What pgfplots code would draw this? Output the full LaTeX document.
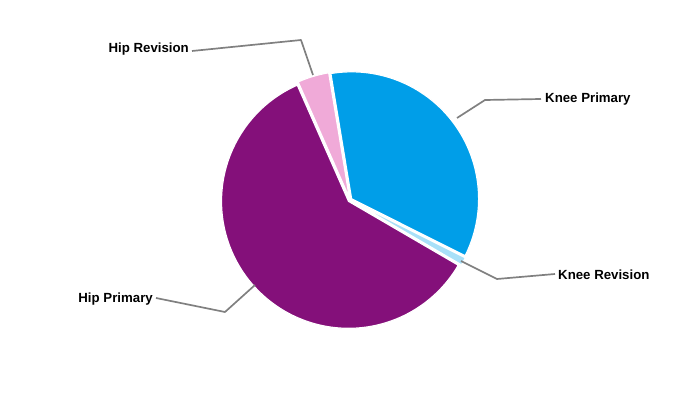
\documentclass[border=0pt]{standalone}
\usepackage{pgfplots}
\pgfplotsset{compat=1.18}
\usepackage{fontspec}
\setmainfont{Liberation Sans}
\definecolor{hp}{HTML}{84107A}
\definecolor{hr}{HTML}{F0AAD8}
\definecolor{kp}{HTML}{009EE8}
\definecolor{kr}{HTML}{A8E0F8}
\definecolor{lead}{HTML}{808080}
\begin{document}
\begin{tikzpicture}
\useasboundingbox (0,0) rectangle (700bp,400bp);
\def\cx{350}\def\cy{200}\def\R{127}\def\ex{2}
% shares in percent
\def\vHP{60}\def\vKR{1}\def\vKP{35}\def\vHR{4}
\pgfmathsetmacro\aA{113.8}
\pgfmathsetmacro\aB{\aA+3.6*\vHP}
\pgfmathsetmacro\aC{\aB+3.6*\vKR}
\pgfmathsetmacro\aD{\aC+3.6*\vKP}
\pgfmathsetmacro\aE{\aD+3.6*\vHR}
\newcommand\slice[3]{%
 \pgfmathsetmacro\midang{(#2+#3)/2}%
 \pgfmathsetmacro\ox{\cx+\ex*cos(\midang)}%
 \pgfmathsetmacro\oy{\cy+\ex*sin(\midang)}%
 \edef\doslice{\noexpand\addplot[fill=#1, draw=white, line width=1.2pt, line join=round, domain=#2:#3, samples=150] ({\ox+\R*cos(x)},{\oy+\R*sin(x)}) -- (axis cs:\ox,\oy) -- cycle;}%
 \doslice}
\begin{axis}[at={(0,0)}, anchor=south west, scale only axis, width=700bp, height=400bp,
  xmin=0, xmax=700, ymin=0, ymax=400, hide axis, clip=false]
\slice{hp}{\aA}{\aB}
\slice{kr}{\aB}{\aC}
\slice{kp}{\aC}{\aD}
\slice{hr}{\aD}{\aE}
\draw[lead, line width=1.7pt, line join=round] (axis cs:313,325) -- (axis cs:301,360) -- (axis cs:192,349);
\draw[lead, line width=1.7pt, line join=round] (axis cs:457,282) -- (axis cs:485,300) -- (axis cs:541,301);
\draw[lead, line width=1.7pt, line join=round] (axis cs:461,139) -- (axis cs:497,121) -- (axis cs:555,126);
\draw[lead, line width=1.7pt, line join=round] (axis cs:255,115) -- (axis cs:225,88) -- (axis cs:156,102);
\tikzset{lab/.style={font=\bfseries\fontsize{13.3}{16}\selectfont, inner sep=1pt}}
\node[lab, anchor=east] at (axis cs:190,350.5) {Hip Revision};
\node[lab, anchor=west] at (axis cs:544,300.5) {Knee Primary};
\node[lab, anchor=west] at (axis cs:557,125.5) {Knee Revision};
\node[lab, anchor=east] at (axis cs:154,100.5) {Hip Primary};
\end{axis}
\end{tikzpicture}
\end{document}
